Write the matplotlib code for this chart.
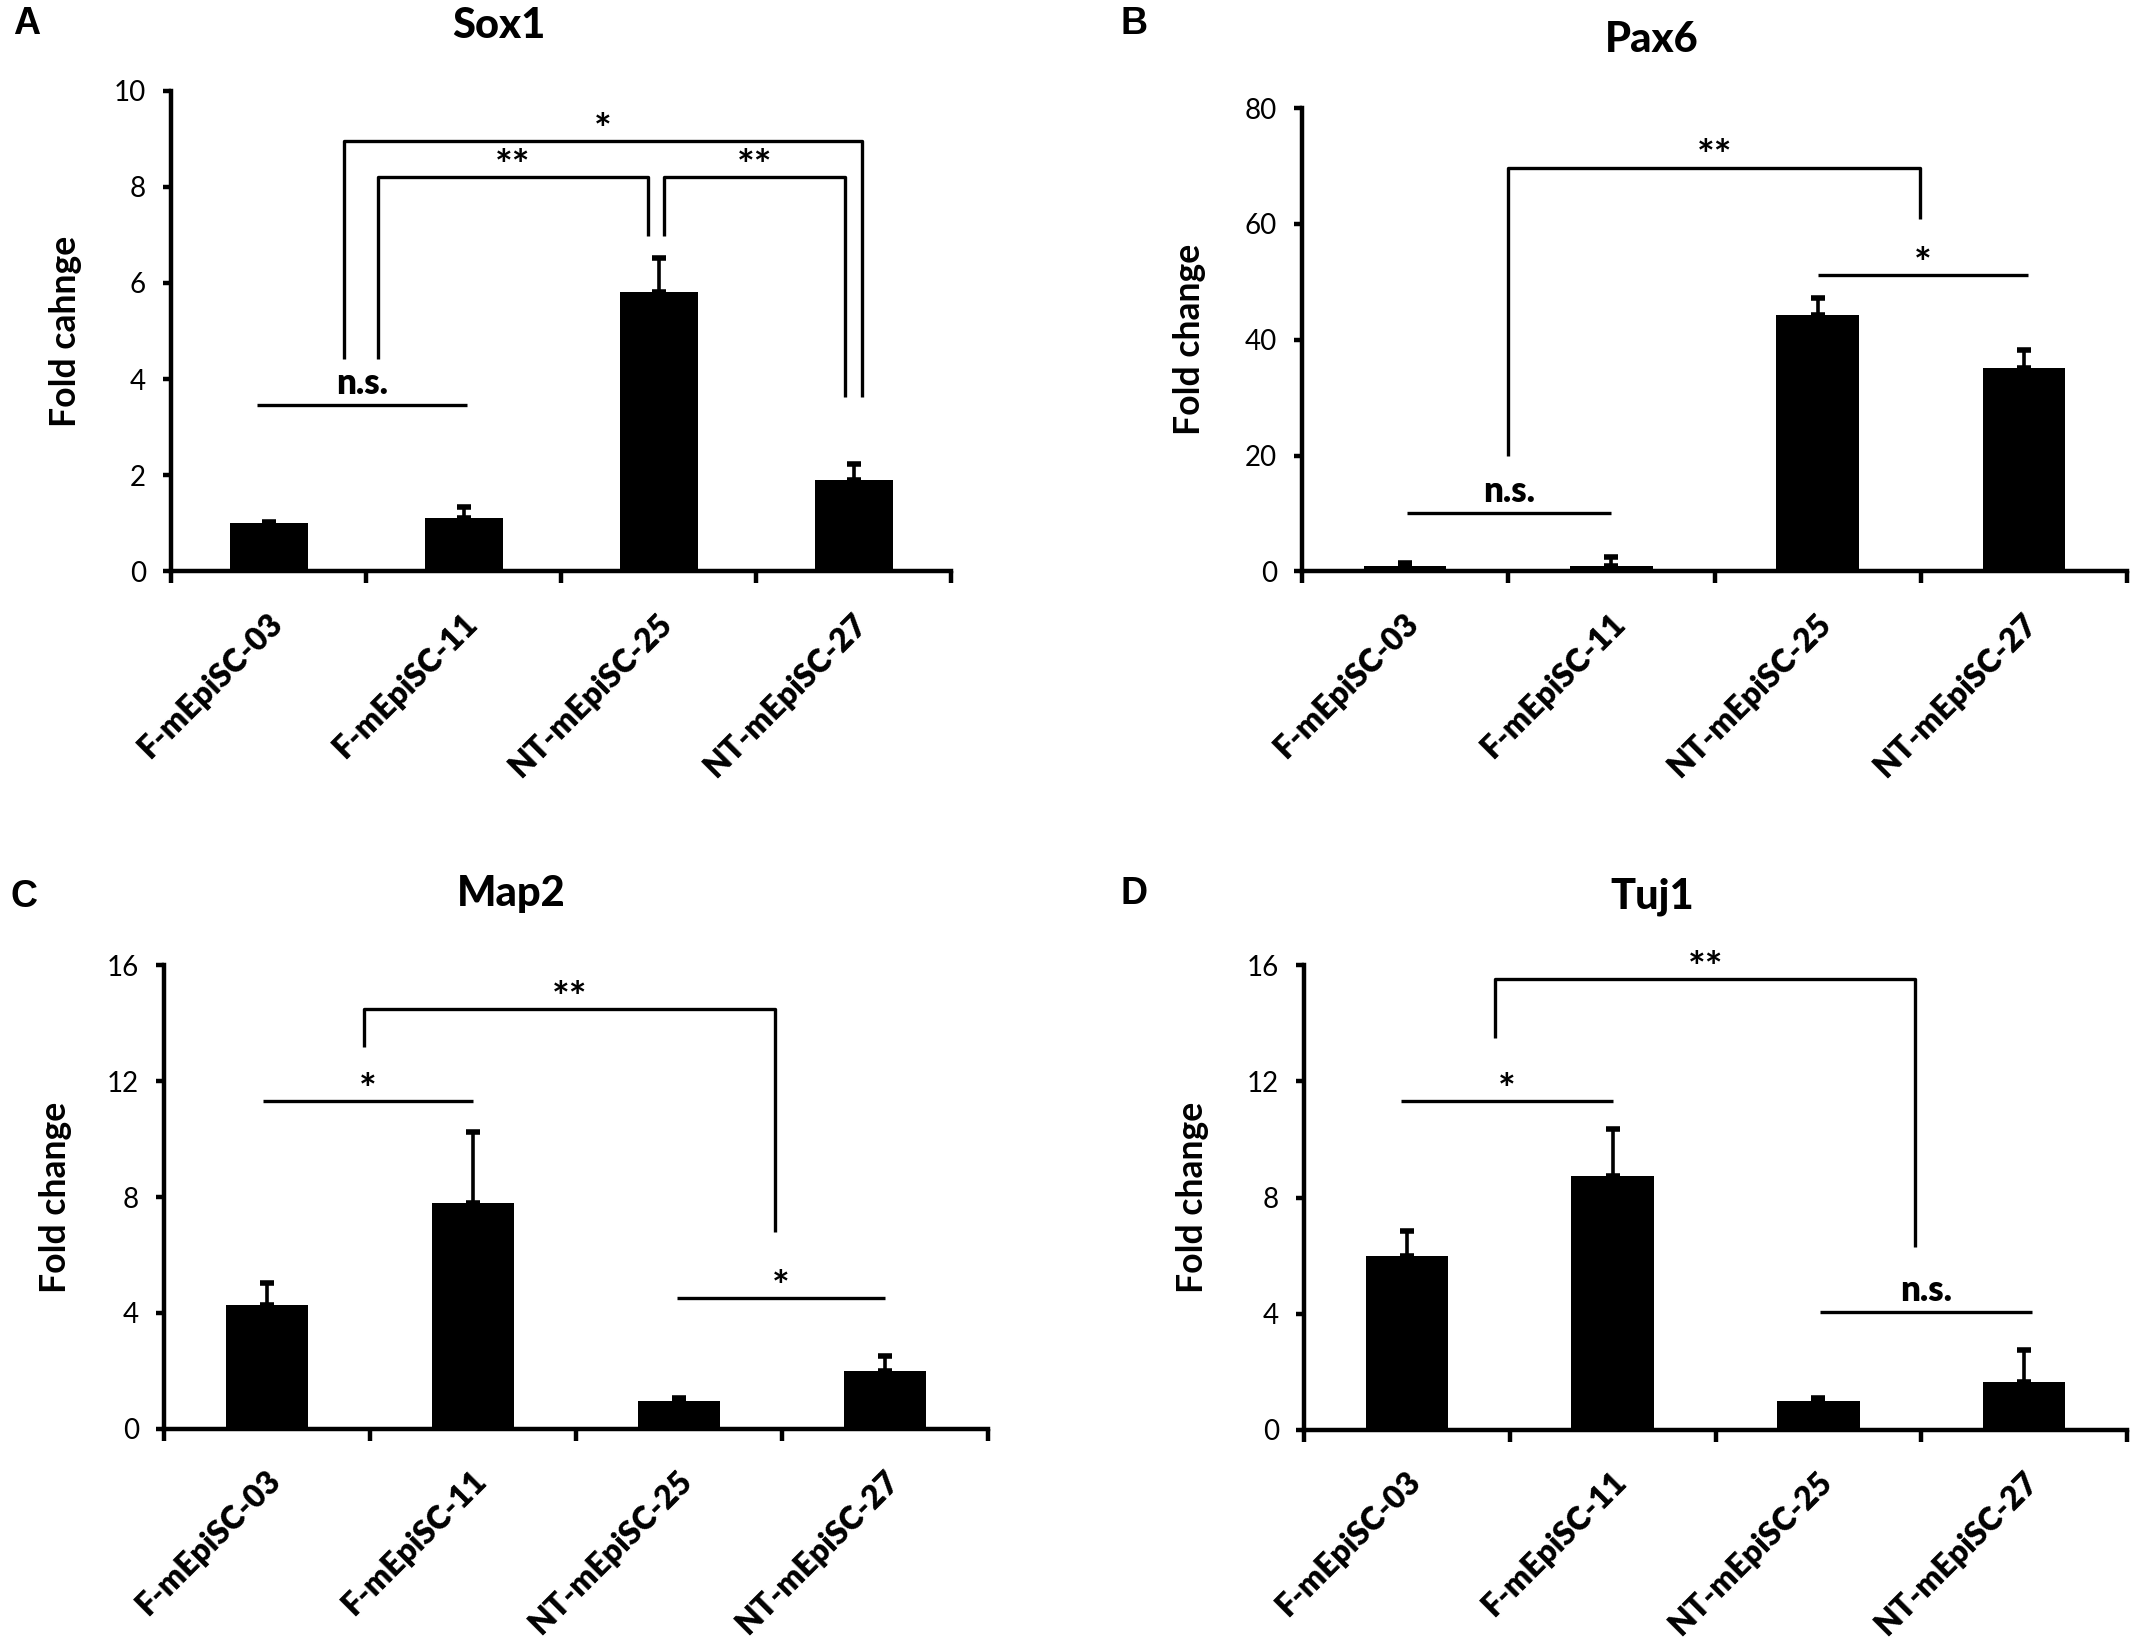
import matplotlib
matplotlib.use("Agg")
import matplotlib.pyplot as plt
from matplotlib.transforms import ScaledTranslation

# ---------------- data ----------------
categories = ["F-mEpiSC-03", "F-mEpiSC-11", "NT-mEpiSC-25", "NT-mEpiSC-27"]

sox1_mean = [1.0, 1.12, 5.82, 1.9]
sox1_err = [0.03, 0.23, 0.69, 0.33]

pax6_mean = [1.0, 1.0, 44.2, 35.1]
pax6_err = [0.4, 1.4, 3.0, 3.1]

map2_mean = [4.28, 7.8, 0.95, 2.0]
map2_err = [0.75, 2.46, 0.11, 0.51]

tuj1_mean = [6.0, 8.73, 0.98, 1.64]
tuj1_err = [0.85, 1.63, 0.11, 1.12]

titles = ["Sox1", "Pax6", "Map2", "Tuj1"]
panel_letters = ["A", "B", "C", "D"]
ylabels = ["Fold cahnge", "Fold change", "Fold change", "Fold change"]
y_max = [10, 80, 16, 16]
y_ticks = [[0, 2, 4, 6, 8, 10], [0, 20, 40, 60, 80], [0, 4, 8, 12, 16], [0, 4, 8, 12, 16]]

# brackets: (x_left, x_right, y_left_end, y_top, y_right_end, label)
sox1_brackets = [(-0.06, 1.02, 3.46, 3.46, 3.46, "n.s."),
                 (0.386, 3.044, 4.42, 8.95, 3.63, "*"),
                 (0.561, 1.945, 4.42, 8.2, 6.98, "**"),
                 (2.029, 2.957, 6.98, 8.2, 3.63, "**")]
pax6_brackets = [(0.007, 1.0, 10.0, 10.0, 10.0, "n.s."),
                 (0.5, 2.497, 19.9, 69.7, 60.9, "**"),
                 (2.0, 3.02, 51.1, 51.1, 51.1, "*")]
map2_brackets = [(-0.02, 1.0, 11.32, 11.32, 11.32, "*"),
                 (0.471, 2.466, 13.18, 14.5, 6.8, "**"),
                 (1.99, 3.0, 4.52, 4.52, 4.52, "*")]
tuj1_brackets = [(-0.03, 1.0, 11.33, 11.33, 11.33, "*"),
                 (0.43, 2.47, 13.5, 15.53, 6.3, "**"),
                 (2.006, 3.04, 4.05, 4.05, 4.05, "n.s.")]

means = [sox1_mean, pax6_mean, map2_mean, tuj1_mean]
errs = [sox1_err, pax6_err, map2_err, tuj1_err]
brackets = [sox1_brackets, pax6_brackets, map2_brackets, tuj1_brackets]

# ---------------- layout (pixel geometry) ----------------
W, H = 2132, 1646
DPI = 200
fig = plt.figure(figsize=(W / DPI, H / DPI), dpi=DPI)
FONT = ["Lato", "DejaVu Sans"]
plt.rcParams["font.family"] = FONT

# left, right, top, bottom in px
ax_px = [(171, 951, 90.7, 571.4),
         (1302, 2127, 108, 571.4),
         (164, 988, 965.4, 1428.7),
         (1304, 2127, 965.4, 1429.7)]
title_px = [(499, 26), (1652, 40), (511, 894), (1652, 897)]
letter_px = [(27, 24), (1134, 24), (24, 897), (1134, 894)]
ylabel_px = [82, 1206, 72, 1209]

LW = 1.6
for i in range(4):
    l, r, t, b = ax_px[i]
    ax = fig.add_axes([l / W, 1 - b / H, (r - l) / W, (b - t) / H])
    x = list(range(len(categories)))
    ax.bar(x, means[i], width=0.4, color="black", zorder=2)
    ax.errorbar(x, means[i], yerr=[[0] * 4, errs[i]], fmt="none", ecolor="black",
                elinewidth=1.3, capsize=2.6, capthick=2.0, zorder=3)
    ax.set_xlim(-0.5, 3.5)
    ax.set_ylim(0, y_max[i])
    ax.set_yticks(y_ticks[i])
    ax.set_yticklabels([str(v) for v in y_ticks[i]], fontsize=10)
    ax.set_xticks([-0.5, 0.5, 1.5, 2.5, 3.5])
    ax.set_xticklabels([])
    ax.tick_params(axis="x", direction="out", length=4.2, width=LW)
    ax.tick_params(axis="y", direction="out", length=3, width=LW, pad=6)
    lab_tr = ax.get_xaxis_transform() + ScaledTranslation(0.045, -0.235, fig.dpi_scale_trans)
    for xi, cat in zip(x, categories):
        ax.text(xi, 0, cat, transform=lab_tr, rotation=45, ha="right", va="center",
                rotation_mode="anchor", fontsize=11.5, fontweight="heavy", clip_on=False)
    for s in ["top", "right"]:
        ax.spines[s].set_visible(False)
    for s in ["left", "bottom"]:
        ax.spines[s].set_linewidth(LW)
    ax.set_ylabel(ylabels[i], fontsize=12.8, fontweight="bold")
    ax.yaxis.set_label_coords((ylabel_px[i] - l) / (r - l), 0.5)

    for (x1, x2, y1, yt, y2, lab) in brackets[i]:
        ax.plot([x1, x1, x2, x2], [y1, yt, yt, y2], color="black", lw=1.2,
                clip_on=False, zorder=4, solid_capstyle="butt")
        if lab == "n.s.":
            ax.annotate(lab, xy=((x1 + x2) / 2, yt), xytext=(0, 4), textcoords="offset points",
                        ha="center", va="baseline", fontsize=12.5, fontweight="heavy",
                        annotation_clip=False)
        else:
            ax.annotate(lab, xy=((x1 + x2) / 2, yt), xytext=(0, -1), textcoords="offset points",
                        ha="center", va="baseline", fontsize=15, fontweight="bold",
                        annotation_clip=False)

    tx, ty = title_px[i]
    fig.text(tx / W, 1 - ty / H, titles[i], ha="center", va="center",
             fontsize=15, fontweight="black")
    lx, ly = letter_px[i]
    fig.text(lx / W, 1 - ly / H, panel_letters[i], ha="center", va="center",
             fontsize=13.5, fontweight="bold", family=["Liberation Sans", "DejaVu Sans"])

fig.savefig("out.png", dpi=DPI)
